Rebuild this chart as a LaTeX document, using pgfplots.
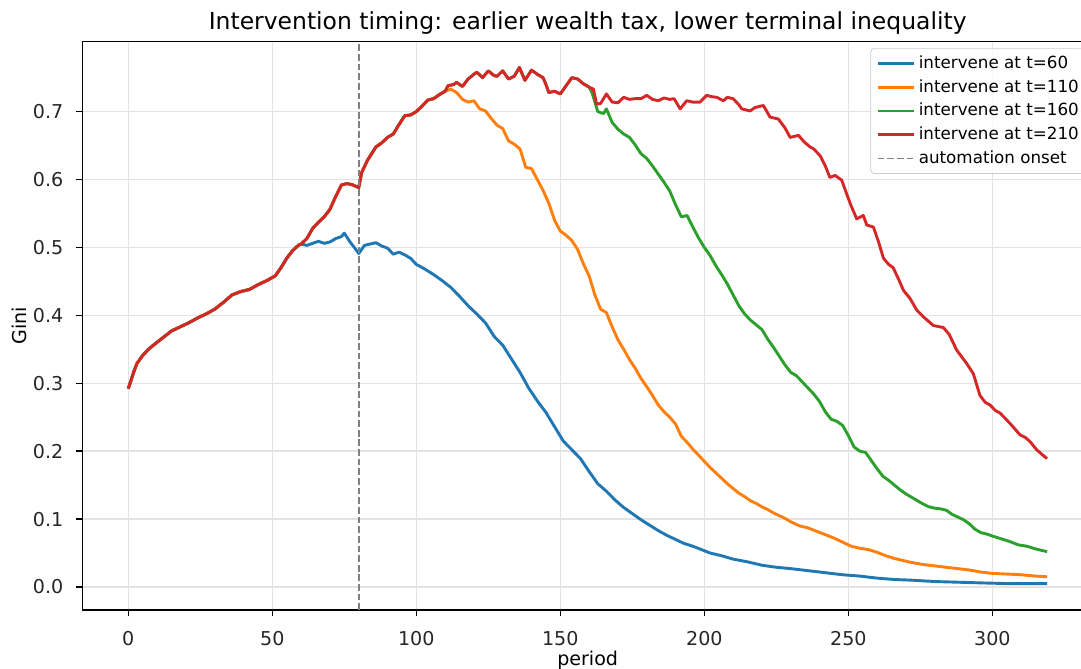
\documentclass[border=0pt]{standalone}
\usepackage{fontspec}
\setmainfont{DejaVu Sans}
\usepackage{pgfplots}
\pgfplotsset{compat=1.18}

\definecolor{tabblue}{HTML}{1F77B4}
\definecolor{taborange}{HTML}{FF7F0E}
\definecolor{tabgreen}{HTML}{2CA02C}
\definecolor{tabred}{HTML}{D62728}
\definecolor{gridgray}{HTML}{E3E3E3}

\begin{document}
\begin{tikzpicture}
\begin{axis}[
    scale only axis,
    width=555.8pt, height=312.6pt,
    xmin=-15.95, xmax=334.95,
    ymin=-0.034, ymax=0.803,
    xtick={0,50,...,300},
    ytick={0,0.1,0.2,0.3,0.4,0.5,0.6,0.7},
    /pgf/number format/assume math mode=true,
    xtick pos=bottom, ytick pos=left,
    tick align=outside,
    major tick length=3.5pt,
    tick style={black, line width=0.8pt},
    axis line style={line width=0.8pt},
    grid=major,
    grid style={gridgray, line width=0.8pt},
    ticklabel style={font=\fontsize{10.5}{12}\selectfont, text=black!85},
    xticklabel style={anchor=base, inner sep=0pt, yshift=-16.2pt},
    yticklabel style={anchor=east, inner sep=0pt, xshift=-6.8pt,
        /pgf/number format/fixed, /pgf/number format/fixed zerofill,
        /pgf/number format/precision=1},
    title={Intervention timing: earlier wealth tax, lower terminal inequality},
    title style={font=\fontsize{12.9}{15}\selectfont, at={(0.5,1)}, anchor=base, yshift=0.8pt},
    xlabel={period},
    ylabel={Gini},
    label style={font=\fontsize{10.5}{12}\selectfont},
    xlabel style={at={(rel axis cs:0.5,0)}, anchor=base, yshift=-30.3pt},
    ylabel style={at={(rel axis cs:0,0.5)}, anchor=base, yshift=30.5pt},
    legend style={at={(1,1)}, anchor=north east, xshift=-2.6pt, yshift=-3.5pt,
        font=\fontsize{9.2}{11}\selectfont, draw=black!20, rounded corners=2pt,
        fill=white, fill opacity=0.8, text opacity=1, row sep=0.6pt,
        inner xsep=3pt, inner ysep=2pt},
    legend cell align=left,
    legend image code/.code={\draw[#1] (0pt,0pt) -- (19.8pt,0pt);},
    every axis plot/.append style={line width=1.6pt, line join=round},
]
% t=60
\addplot[tabblue] coordinates {
(0,0.292)(1,0.305)(2,0.318)(3,0.329)(5,0.341)(7,0.350)(9,0.357)(12,0.367)(15,0.377)(18,0.383)
(21,0.389)(24,0.396)(27,0.402)(30,0.409)(33,0.419)(36,0.430)(39,0.435)(42,0.438)(45,0.445)(48,0.451)
(51,0.458)(53,0.470)(55,0.484)(57,0.495)(59,0.503)(60,0.505)
(62,0.503)(64,0.506)(66,0.509)(68,0.506)(70,0.508)(72,0.513)(74,0.516)(75,0.521)(77,0.508)(79,0.497)
(80,0.491)(82,0.503)(84,0.505)(86,0.507)(88,0.502)(90,0.499)(92,0.490)(94,0.493)(96,0.489)(98,0.484)
(100,0.475)(103,0.468)(106,0.460)(109,0.451)(112,0.441)(115,0.428)(118,0.414)(121,0.402)(124,0.389)
(127,0.369)(130,0.356)(133,0.336)(136,0.316)(139,0.293)(142,0.274)(145,0.257)(148,0.236)(151,0.215)
(154,0.202)(157,0.189)(160,0.170)(163,0.152)(166,0.141)(169,0.128)(172,0.117)(175,0.108)(178,0.099)
(181,0.091)(184,0.083)(187,0.076)(190,0.070)(193,0.064)(196,0.060)(199,0.055)(202,0.050)(206,0.046)
(210,0.041)(215,0.037)(220,0.032)(225,0.029)(230,0.027)(236,0.024)(242,0.021)(248,0.018)(254,0.016)
(260,0.013)(266,0.011)(272,0.010)(280,0.008)(288,0.007)(296,0.006)(305,0.005)(312,0.005)(319,0.005)
};
\addlegendentry{intervene at t=60}
% t=110
\addplot[taborange] coordinates {
(0,0.292)(1,0.305)(2,0.318)(3,0.329)(5,0.341)(7,0.350)(9,0.357)(12,0.367)(15,0.377)(18,0.383)
(21,0.389)(24,0.396)(27,0.402)(30,0.409)(33,0.419)(36,0.430)(39,0.435)(42,0.438)(45,0.445)(48,0.451)
(51,0.458)(53,0.470)(55,0.484)(57,0.495)(59,0.503)(60,0.505)
(62,0.513)(64,0.528)(66,0.537)(68,0.545)(70,0.556)(72,0.575)(74,0.592)(76,0.594)(78,0.592)(80,0.588)
(81,0.610)(83,0.628)(86,0.648)(88,0.654)(90,0.662)(92,0.667)(94,0.681)(96,0.694)(98,0.695)(100,0.700)
(102,0.708)(104,0.717)(106,0.719)(108,0.725)(110,0.730)
(112,0.733)(114,0.728)(116,0.718)(118,0.714)(120,0.716)(122,0.704)(124,0.701)(126,0.690)(128,0.680)
(130,0.675)(132,0.657)(134,0.652)(136,0.645)(138,0.618)(140,0.616)(142,0.600)(144,0.584)(146,0.565)
(148,0.540)(150,0.524)(152,0.518)(154,0.510)(156,0.497)(158,0.476)(160,0.458)(162,0.430)(164,0.409)
(166,0.404)(168,0.383)(170,0.364)(172,0.350)(174,0.335)(176,0.322)(178,0.307)(180,0.295)(182,0.282)
(184,0.268)(186,0.258)(188,0.250)(190,0.240)(192,0.222)(194,0.213)(196,0.203)(198,0.194)(200,0.185)
(202,0.176)(204,0.168)(206,0.160)(208,0.152)(210,0.145)(212,0.138)(214,0.133)(216,0.127)(218,0.123)
(220,0.118)(222,0.114)(224,0.109)(226,0.105)(228,0.101)(230,0.096)(233,0.090)(236,0.087)(239,0.082)
(242,0.077)(245,0.072)(248,0.066)(251,0.060)(254,0.057)(257,0.055)(260,0.051)(263,0.046)(266,0.042)
(269,0.039)(272,0.036)(276,0.033)(280,0.031)(284,0.029)(288,0.027)(292,0.025)(296,0.022)(300,0.020)
(305,0.019)(310,0.018)(315,0.016)(319,0.015)
};
\addlegendentry{intervene at t=110}
% t=160
\addplot[tabgreen] coordinates {
(0,0.292)(1,0.305)(2,0.318)(3,0.329)(5,0.341)(7,0.350)(9,0.357)(12,0.367)(15,0.377)(18,0.383)
(21,0.389)(24,0.396)(27,0.402)(30,0.409)(33,0.419)(36,0.430)(39,0.435)(42,0.438)(45,0.445)(48,0.451)
(51,0.458)(53,0.470)(55,0.484)(57,0.495)(59,0.503)(60,0.505)
(62,0.513)(64,0.528)(66,0.537)(68,0.545)(70,0.556)(72,0.575)(74,0.592)(76,0.594)(78,0.592)(80,0.588)
(81,0.610)(83,0.628)(86,0.648)(88,0.654)(90,0.662)(92,0.667)(94,0.681)(96,0.694)(98,0.695)(100,0.700)
(102,0.708)(104,0.717)(106,0.719)(108,0.725)(110,0.730)
(111,0.738)(113,0.740)(114,0.743)(116,0.737)(118,0.748)(120,0.755)(121,0.758)(123,0.750)(125,0.760)
(127,0.753)(128,0.752)(130,0.760)(132,0.748)(134,0.752)(135.8,0.765)(137.7,0.746)(140,0.761)(142,0.755)
(144,0.750)(145,0.740)(146,0.728)(148,0.730)(150,0.726)(152,0.738)(154,0.750)(156,0.748)(158,0.741)
(160,0.736)
(161,0.728)(162,0.714)(163,0.700)(165,0.697)(166,0.704)(168,0.684)(170,0.674)(172,0.667)(174,0.662)
(176,0.651)(178,0.638)(180,0.631)(182,0.620)(184,0.608)(186,0.596)(188,0.583)(190,0.563)(192,0.545)
(194,0.547)(196,0.530)(198,0.514)(200,0.500)(202,0.488)(204,0.473)(206,0.460)(208,0.446)(210,0.430)
(212,0.414)(214,0.402)(216,0.393)(218,0.386)(220,0.379)(222,0.365)(224,0.353)(226,0.340)(228,0.327)
(230,0.316)(232,0.311)(234,0.302)(236,0.293)(238,0.284)(240,0.273)(242,0.258)(244,0.247)(246,0.244)
(248,0.238)(250,0.223)(252,0.206)(254,0.200)(256,0.198)(258,0.186)(260,0.174)(262,0.163)(264,0.157)
(266,0.150)(268,0.143)(270,0.137)(272,0.132)(274,0.127)(276,0.122)(278,0.118)(280,0.116)(282,0.115)
(284,0.113)(286,0.107)(288,0.103)(290,0.099)(292,0.093)(294,0.085)(296,0.080)(298,0.078)(300,0.075)
(303,0.071)(306,0.067)(309,0.062)(312,0.060)(315,0.056)(317,0.054)(319,0.052)
};
\addlegendentry{intervene at t=160}
% t=210
\addplot[tabred] coordinates {
(0,0.292)(1,0.305)(2,0.318)(3,0.329)(5,0.341)(7,0.350)(9,0.357)(12,0.367)(15,0.377)(18,0.383)
(21,0.389)(24,0.396)(27,0.402)(30,0.409)(33,0.419)(36,0.430)(39,0.435)(42,0.438)(45,0.445)(48,0.451)
(51,0.458)(53,0.470)(55,0.484)(57,0.495)(59,0.503)(60,0.505)
(62,0.513)(64,0.528)(66,0.537)(68,0.545)(70,0.556)(72,0.575)(74,0.592)(76,0.594)(78,0.592)(80,0.588)
(81,0.610)(83,0.628)(86,0.648)(88,0.654)(90,0.662)(92,0.667)(94,0.681)(96,0.694)(98,0.695)(100,0.700)
(102,0.708)(104,0.717)(106,0.719)(108,0.725)(110,0.730)
(111,0.738)(113,0.740)(114,0.743)(116,0.737)(118,0.748)(120,0.755)(121,0.758)(123,0.750)(125,0.760)
(127,0.753)(128,0.752)(130,0.760)(132,0.748)(134,0.752)(135.8,0.765)(137.7,0.746)(140,0.761)(142,0.755)
(144,0.750)(145,0.740)(146,0.728)(148,0.730)(150,0.726)(152,0.738)(154,0.750)(156,0.748)(158,0.741)
(160,0.736)
(161.5,0.733)(162.6,0.711)(164,0.712)(166,0.726)(168,0.714)(170,0.713)(172,0.721)(174,0.718)(176,0.719)
(178,0.719)(180,0.724)(182,0.718)(184,0.716)(186,0.720)(188,0.718)(189.5,0.719)(191.6,0.704)(193.9,0.716)
(196,0.714)(198.5,0.714)(200.8,0.724)(202.5,0.722)(204.3,0.721)(206.6,0.716)(208,0.721)(210,0.719)
(212,0.710)(213,0.704)(215.9,0.701)(217.6,0.706)(220.5,0.709)(222.8,0.692)(225.7,0.689)(228,0.676)
(229.8,0.662)(232.7,0.665)(234.5,0.656)(236.7,0.648)(238,0.645)(240.2,0.635)(242,0.620)(243.6,0.603)
(245.4,0.606)(247.7,0.599)(249.4,0.579)(251,0.561)(252.9,0.542)(255.2,0.547)(256.4,0.533)(258.7,0.530)
(260.5,0.508)(262.2,0.484)(264,0.475)(265.6,0.470)(268,0.448)(269.1,0.437)(271.4,0.425)(273.7,0.408)
(276,0.398)(279.5,0.385)(283,0.382)(285,0.372)(287.6,0.349)(289.5,0.338)(291.1,0.329)(293.4,0.314)
(295.7,0.282)(297.5,0.272)(299.2,0.268)(301,0.260)(302.7,0.256)(306.1,0.241)(309.6,0.224)(311.5,0.220)
(313.1,0.214)(315.4,0.202)(317,0.196)(319,0.189)
};
\addlegendentry{intervene at t=210}
\addplot[gray, line width=0.9pt, dash pattern=on 3.7pt off 1.6pt] coordinates {(80,-0.034)(80,0.803)};
\addlegendentry{automation onset}
\end{axis}
\pgfresetboundingbox
\path[use as bounding box] ([shift={(-45.3pt,-31.9pt)}]current axis.south west)
    rectangle ([shift={(549.2pt,335.5pt)}]current axis.south west);
\end{tikzpicture}
\end{document}
